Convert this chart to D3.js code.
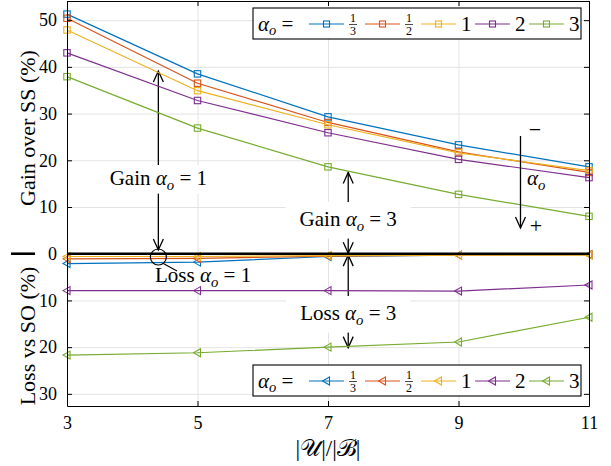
<!DOCTYPE html>
<html>
<head>
<meta charset="utf-8">
<script src="https://cdn.jsdelivr.net/npm/d3@7"></script>
<style>
  body { margin: 0; background: #fff; }
  svg { font-family: "Liberation Serif", "DejaVu Serif", serif; }
</style>
</head>
<body>
<script>
// data
var xVals = [3, 5, 7, 9, 11];
var alphaNames = ["1/3", "1/2", "1", "2", "3"];
var colors = ["#0072BD", "#D95319", "#EDB120", "#7E2F8E", "#77AC30"];

var gain13 = [51.3, 38.5, 29.3, 23.3, 18.6];
var gain12 = [50.4, 36.5, 28.1, 21.8, 17.4];
var gain1  = [47.9, 34.9, 27.6, 21.6, 17.8];
var gain2  = [43.0, 32.8, 25.9, 20.2, 16.3];
var gain3  = [37.9, 26.9, 18.6, 12.7, 8.0];

var loss13 = [2.1, 1.8, 0.6, 0.3, 0.2];
var loss12 = [1.1, 1.0, 0.5, 0.3, 0.2];
var loss1  = [0.6, 0.6, 0.4, 0.3, 0.3];
var loss2  = [7.9, 7.9, 7.9, 8.0, 6.7];
var loss3  = [21.7, 21.2, 20.0, 18.9, 13.6];

var yTicks = [-30, -20, -10, 0, 10, 20, 30, 40, 50];

var gains = [gain13, gain12, gain1, gain2, gain3];
var losses = [loss13, loss12, loss1, loss2, loss3];

var width = 611, height = 466;
var pL = 67, pR = 589, pT = 1, pB = 406;

var svg = d3.select("body").append("svg")
    .attr("width", width)
    .attr("height", height);

var x = d3.scaleLinear().domain([3, 11]).range([pL, pR]);
var y = d3.scaleLinear().domain([-32.6, 54.1]).range([pB, pT]);

// grid
svg.append("g")
    .attr("transform", "translate(0," + pB + ")")
    .call(d3.axisBottom(x).tickValues(xVals).tickSize(-(pB - pT)).tickFormat(""))
    .call(function(g) { g.select(".domain").remove(); })
    .selectAll("line").attr("stroke", "#e3e3e3");
svg.append("g")
    .attr("transform", "translate(" + pL + ",0)")
    .call(d3.axisLeft(y).tickValues(yTicks).tickSize(-(pR - pL)).tickFormat(""))
    .call(function(g) { g.select(".domain").remove(); })
    .selectAll("line").attr("stroke", "#e3e3e3");

// text with alpha_o
function alphaText(g, pre, post, size) {
    var t = g.append("text").attr("font-size", size).attr("fill", "#000");
    t.append("tspan").text(pre);
    t.append("tspan").attr("font-style", "italic").text("\u03b1");
    t.append("tspan").attr("font-style", "italic").attr("font-size", size * 0.7)
        .attr("dy", size * 0.22).text("o");
    t.append("tspan").attr("dy", -size * 0.22).text(post);
    return t;
}

function boxedText(pre, post, cx, by, anchor, padX, padY) {
    var g = svg.append("g");
    var t = alphaText(g, pre, post, 21).attr("x", cx).attr("y", by).attr("text-anchor", anchor);
    var b = t.node().getBBox();
    g.insert("rect", "text")
        .attr("x", b.x - padX).attr("y", b.y - padY)
        .attr("width", b.width + 2 * padX).attr("height", b.height + 2 * padY)
        .attr("fill", "#fff");
    return g;
}

function arrow(x0, y0, x1, y1, headStart, headEnd) {
    var g = svg.append("g").attr("stroke", "#000").attr("fill", "none").attr("stroke-width", 1.3);
    g.append("line").attr("x1", x0).attr("y1", y0).attr("x2", x1).attr("y2", y1);
    function head(tx, ty, dir) {
        g.append("path").attr("d", "M" + (tx - 5) + "," + (ty - dir * 11) + " L" + tx + "," + ty + " L" + (tx + 5) + "," + (ty - dir * 11));
    }
    if (headStart) head(x0, y0, y0 < y1 ? -1 : 1);
    if (headEnd) head(x1, y1, y1 > y0 ? 1 : -1);
}

// annotations under data
arrow(x(4.4), y(39.1), x(4.4), y(0.8), true, true);
boxedText("Gain ", " = 1", x(4.4), 185, "middle", 4, 1);
arrow(x(7.31), y(17.4), x(7.31), y(0.1), true, true);
arrow(x(7.31), y(-0.3), x(7.31), y(-20.1), true, true);
boxedText("Gain ", " = 3", x(7.31), 226, "middle", 14, 5);
boxedText("Loss ", " = 3", x(7.31), 320, "middle", 14, 5);
boxedText("Loss ", " = 1", 155, 282, "start", 2, 1);

var line = d3.line()
    .x(function(d, i) { return x(xVals[i]); })
    .y(function(d) { return y(d); });

// loss series (plotted downward)
losses.forEach(function(s, k) {
    var neg = s.map(function(v) { return -v; });
    svg.append("path").datum(neg).attr("d", line)
        .attr("fill", "none").attr("stroke", colors[k]).attr("stroke-width", 1.2);
    svg.selectAll(null).data(neg).enter().append("path")
        .attr("transform", function(d, i) { return "translate(" + x(xVals[i]) + "," + y(d) + ")"; })
        .attr("d", "M-4,0 L3,-4 L3,4 Z")
        .attr("fill", "none").attr("stroke", colors[k]).attr("stroke-width", 1.1);
});

// gain series
gains.forEach(function(s, k) {
    svg.append("path").datum(s).attr("d", line)
        .attr("fill", "none").attr("stroke", colors[k]).attr("stroke-width", 1.2);
    svg.selectAll(null).data(s).enter().append("rect")
        .attr("x", function(d, i) { return x(xVals[i]) - 3.2; })
        .attr("y", function(d) { return y(d) - 3.2; })
        .attr("width", 6.4).attr("height", 6.4)
        .attr("fill", "none").attr("stroke", colors[k]).attr("stroke-width", 1.1);
});

// thick zero line
svg.append("line")
    .attr("x1", pL).attr("x2", pR).attr("y1", y(0)).attr("y2", y(0))
    .attr("stroke", "#000").attr("stroke-width", 2.6);

// circle + leader for loss alpha=1
svg.append("circle").attr("cx", x(4.4)).attr("cy", y(-0.7)).attr("r", 8)
    .attr("fill", "none").attr("stroke", "#000").attr("stroke-width", 1.2);
svg.append("line").attr("x1", x(4.4) + 5).attr("y1", y(-0.7) + 6.5)
    .attr("x2", 177).attr("y2", 271).attr("stroke", "#000").attr("stroke-width", 1.1);

// alpha direction arrow
arrow(x(9.95), y(25.2), x(9.95), y(5.5), false, true);
svg.append("text").attr("x", 535).attr("y", 137).attr("font-size", 22).attr("text-anchor", "middle").text("\u2212");
svg.append("text").attr("x", 536).attr("y", 233).attr("font-size", 22).attr("text-anchor", "middle").text("+");
var ao = svg.append("text").attr("x", 527).attr("y", 185).attr("font-size", 21);
ao.append("tspan").attr("font-style", "italic").text("\u03b1");
ao.append("tspan").attr("font-style", "italic").attr("font-size", 14.7).attr("dy", 4.5).text("o");

// axes box with inner ticks
var axisStyle = function(g) {
    g.selectAll("line").attr("stroke", "#000");
    g.select(".domain").attr("stroke", "#000");
};
svg.append("g").attr("transform", "translate(0," + pB + ")")
    .call(d3.axisBottom(x).tickValues(xVals).tickSizeInner(-5).tickSizeOuter(0).tickPadding(10).tickFormat(d3.format("d")))
    .call(axisStyle)
    .call(function(g) { g.selectAll("text").attr("font-size", 18).attr("font-family", "Liberation Serif").attr("fill", "#000"); });
svg.append("g").attr("transform", "translate(0," + pT + ")")
    .call(d3.axisTop(x).tickValues(xVals).tickSizeInner(-5).tickSizeOuter(0).tickFormat(""))
    .call(axisStyle);
svg.append("g").attr("transform", "translate(" + pL + ",0)")
    .call(d3.axisLeft(y).tickValues(yTicks).tickSizeInner(-5).tickSizeOuter(0).tickPadding(10)
        .tickFormat(function(d) { return Math.abs(d); }))
    .call(axisStyle)
    .call(function(g) { g.selectAll("text").attr("font-size", 18).attr("font-family", "Liberation Serif").attr("fill", "#000"); });
svg.append("g").attr("transform", "translate(" + pR + ",0)")
    .call(d3.axisRight(y).tickValues(yTicks).tickSizeInner(-5).tickSizeOuter(0).tickFormat(""))
    .call(axisStyle);

// legends
function legend(ly, marker) {
    var g = svg.append("g");
    g.append("rect").attr("x", 253).attr("y", ly).attr("width", 328).attr("height", 31)
        .attr("fill", "#fff").attr("stroke", "#000").attr("stroke-width", 1.1);
    var cy = ly + 16;
    var t = g.append("text").attr("x", 258).attr("y", cy + 7).attr("font-size", 21);
    t.append("tspan").attr("font-style", "italic").text("\u03b1");
    t.append("tspan").attr("font-style", "italic").attr("font-size", 14.5).attr("dy", 4).text("o");
    t.append("tspan").attr("dy", -4).text(" =");
    var x0 = [309, 365, 421, 475, 529];
    alphaNames.forEach(function(name, k) {
        var lx = x0[k];
        g.append("line").attr("x1", lx).attr("x2", lx + 35).attr("y1", cy).attr("y2", cy)
            .attr("stroke", colors[k]).attr("stroke-width", 1.2);
        var mx = lx + 17.5;
        if (marker === "square") {
            g.append("rect").attr("x", mx - 3).attr("y", cy - 3).attr("width", 6).attr("height", 6)
                .attr("fill", "none").attr("stroke", colors[k]).attr("stroke-width", 1.1);
        } else {
            g.append("path").attr("transform", "translate(" + mx + "," + cy + ")").attr("d", "M-4,0 L3,-4 L3,4 Z")
                .attr("fill", "none").attr("stroke", colors[k]).attr("stroke-width", 1.1);
        }
        var tx = lx + 40;
        if (name.indexOf("/") > 0) {
            var parts = name.split("/");
            g.append("text").attr("x", tx + 4).attr("y", cy - 2).attr("font-size", 12).attr("text-anchor", "middle").text(parts[0]);
            g.append("line").attr("x1", tx).attr("x2", tx + 8).attr("y1", cy + 0.5).attr("y2", cy + 0.5)
                .attr("stroke", "#000").attr("stroke-width", 0.7);
            g.append("text").attr("x", tx + 4).attr("y", cy + 11).attr("font-size", 12).attr("text-anchor", "middle").text(parts[1]);
        } else {
            g.append("text").attr("x", tx).attr("y", cy + 7).attr("font-size", 21).text(name);
        }
    });
}
legend(8, "square");
legend(365, "triangle");

// axis labels
svg.append("text").attr("transform", "translate(35,128) rotate(-90)")
    .attr("text-anchor", "middle").attr("font-size", 22).text("Gain over SS (%)");
svg.append("text").attr("transform", "translate(35,336) rotate(-90)")
    .attr("text-anchor", "middle").attr("font-size", 22).text("Loss vs SO (%)");
svg.append("line").attr("x1", 11).attr("x2", 35).attr("y1", y(0)).attr("y2", y(0))
    .attr("stroke", "#000").attr("stroke-width", 2.6);

svg.append("text").attr("x", x(7)).attr("y", 456).attr("text-anchor", "middle").attr("font-size", 23)
    .text("|\ud835\udcb0|/|\u212c|");
</script>
</body>
</html>
